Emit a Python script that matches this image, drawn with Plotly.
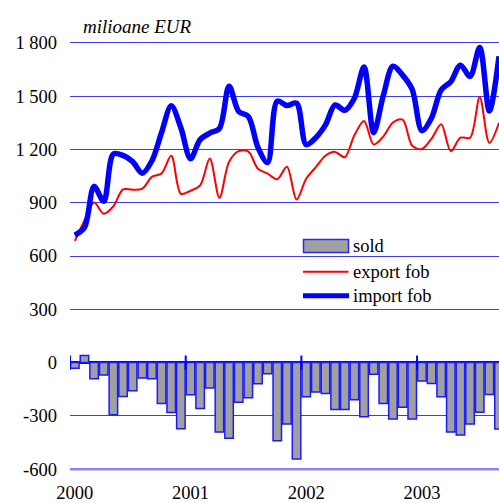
import plotly.graph_objects as go

# ---- data ----
years = ["2000", "2001", "2002", "2003"]
months = list(range(45))  # Jan 2000 .. Sep 2003

import_fob = [717, 760, 992, 908, 1174, 1166, 1131, 1066, 1136, 1295,
              1445, 1322, 1148, 1255, 1292, 1318, 1556, 1413, 1385, 1210,
              1126, 1472, 1447, 1460, 1227, 1266, 1338, 1450, 1420, 1488,
              1664, 1294, 1503, 1668, 1618, 1537, 1306, 1377, 1534, 1581,
              1674, 1611, 1774, 1416, 1724]
export_fob = [685, 800, 901, 838, 880, 975, 973, 979, 1045, 1065,
              1164, 950, 967, 997, 1149, 927, 1130, 1190, 1187, 1091,
              1064, 1032, 1102, 918, 1035, 1100, 1164, 1186, 1156, 1279,
              1360, 1228, 1273, 1351, 1367, 1220, 1202, 1260, 1342, 1190,
              1266, 1266, 1495, 1237, 1350]
sold = [-32, 40, -91, -70, -294, -191, -158, -87, -91, -230,
        -281, -372, -181, -258, -143, -391, -426, -223, -198, -119,
        -62, -440, -345, -542, -192, -166, -174, -264, -264, -209,
        -304, -66, -230, -317, -251, -317, -104, -117, -192, -391,
        -408, -345, -279, -179, -374]

y_ticks = [-600, -300, 0, 300, 600, 900, 1200, 1500, 1800]
y_tick_text = ["-600", "-300", "0", "300", "600", "900", "1 200", "1 500", "1 800"]

unit_label = "milioane EUR"
legend_names = ["sold", "export fob", "import fob"]

FONT = "Liberation Serif"
FS = 18.5
GRID = "#3c3cf2"
BLUE = "#0000ff"
RED = "#ff0000"
GRAY = "#a0a0a0"

W, H = 499, 503
ML, MT, MB = 70, 41, 32
PW, PH = W - ML, H - MT - MB

fig = go.Figure()
fig.add_trace(go.Bar(x=months, y=sold, name=legend_names[0],
                     marker=dict(color=GRAY, line=dict(color="#1a1aff", width=1.5))))
fig.add_trace(go.Scatter(x=months, y=export_fob, name=legend_names[1], mode="lines",
                         line=dict(color=RED, width=2, shape="spline", smoothing=0.9)))
fig.add_trace(go.Scatter(x=months, y=import_fob, name=legend_names[2], mode="lines",
                         line=dict(color=BLUE, width=5.5, shape="spline", smoothing=0.9)))

shapes = []
for k in range(len(years)):
    shapes.append(dict(type="line", xref="x", yref="y", x0=k * 12 - 0.5, x1=k * 12 - 0.5,
                       y0=-40, y1=40, line=dict(color=BLUE, width=2)))
shapes.append(dict(type="line", xref="paper", yref="y", x0=0, x1=1, y0=-600, y1=-600,
                   line=dict(color="#8585f5", width=2.5)))


def px2x(px):
    return (px - ML) / PW


def py2y(py):
    return 1 - (py - MT) / PH


shapes.append(dict(type="rect", xref="paper", yref="paper",
                   x0=px2x(303.5), x1=px2x(348.5), y0=py2y(252.5), y1=py2y(239.5),
                   fillcolor=GRAY, line=dict(color="#2a2aff", width=1.5)))
shapes.append(dict(type="line", xref="paper", yref="paper",
                   x0=px2x(303), x1=px2x(348.5), y0=py2y(271.7), y1=py2y(271.7),
                   line=dict(color=RED, width=2)))
shapes.append(dict(type="line", xref="paper", yref="paper",
                   x0=px2x(303), x1=px2x(349), y0=py2y(295.7), y1=py2y(295.7),
                   line=dict(color=BLUE, width=5)))

annotations = [
    dict(text="<i>" + unit_label + "</i>", xref="paper", yref="paper",
         x=px2x(81), y=py2y(27), xanchor="left", yanchor="middle", showarrow=False,
         font=dict(family=FONT, size=19, color="black")),
]
for name, py in zip(legend_names, [245.5, 271.5, 295.5]):
    annotations.append(dict(text=name, xref="paper", yref="paper",
                            x=px2x(351), y=py2y(py), xanchor="left", yanchor="middle",
                            showarrow=False, font=dict(family=FONT, size=FS, color="black")))

fig.update_layout(
    width=W, height=H,
    margin=dict(l=ML, r=0, t=MT, b=MB, pad=0),
    paper_bgcolor="white", plot_bgcolor="white",
    showlegend=False,
    bargap=0.12,
    font=dict(family=FONT, size=FS, color="black"),
    shapes=shapes,
    annotations=annotations,
    xaxis=dict(range=[-0.5, 44.0], tickvals=[k * 12 for k in range(len(years))],
               ticktext=years, showgrid=False, zeroline=False, showline=False,
               ticks="", ticklabelstandoff=8,
               tickfont=dict(family=FONT, size=FS, color="black")),
    yaxis=dict(range=[-610, 1810], tickvals=y_ticks, ticktext=y_tick_text,
               showgrid=True, gridcolor=GRID, gridwidth=1,
               zeroline=True, zerolinecolor=BLUE, zerolinewidth=3,
               showline=False, ticks="", ticklabelstandoff=12,
               tickfont=dict(family=FONT, size=FS, color="black")),
)

fig.write_html(
    "out.html",
    config={"displayModeBar": False},
    post_script="document.body.style.margin='0';document.body.style.overflow='hidden';",
)
